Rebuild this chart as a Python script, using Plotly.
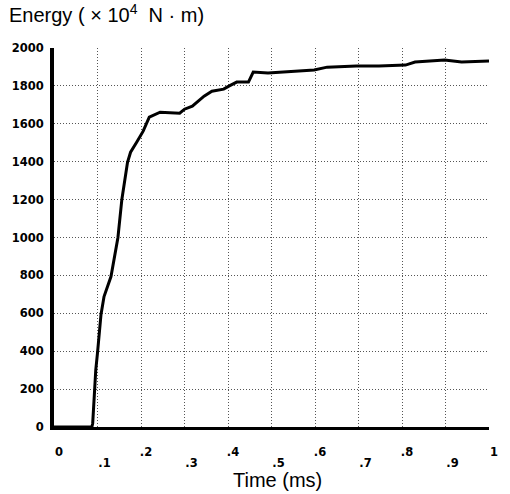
import plotly.graph_objects as go

# Data
time_ms = [0.0, 0.087, 0.089, 0.093, 0.096, 0.100, 0.108, 0.115, 0.131, 0.147, 0.156,
           0.169, 0.176, 0.190, 0.205, 0.219, 0.233, 0.244, 0.289, 0.300, 0.318,
           0.345, 0.363, 0.390, 0.402, 0.420, 0.447, 0.458, 0.492, 0.598, 0.628,
           0.695, 0.747, 0.808, 0.830, 0.898, 0.937, 1.000]
energy = [0, 0, 20, 185, 300, 391, 593, 688, 794, 1000, 1201,
          1397, 1450, 1503, 1561, 1635, 1651, 1661, 1656, 1677, 1693,
          1746, 1772, 1783, 1799, 1820, 1820, 1873, 1868, 1884, 1899,
          1905, 1905, 1910, 1926, 1937, 1926, 1931]

even_ticks = [0, 0.1, 0.2, 0.3, 0.4, 0.5, 0.6, 0.7, 0.8, 0.9, 1.0]
even_text = ["0", "", ".2", "", ".4", "", ".6", "", ".8", "", "1"]
odd_ticks = [0.1, 0.3, 0.5, 0.7, 0.9]
odd_text = [".1", ".3", ".5", ".7", ".9"]
y_ticks = [0, 200, 400, 600, 800, 1000, 1200, 1400, 1600, 1800, 2000]

tickfont = dict(family="DejaVu Sans", size=11.5, color="black", weight="bold")

fig = go.Figure()
fig.add_trace(go.Scatter(x=time_ms, y=energy, mode="lines",
                         line=dict(color="black", width=3), hoverinfo="skip",
                         showlegend=False))
fig.add_trace(go.Scatter(x=time_ms, y=energy, mode="lines", xaxis="x2",
                         line=dict(color="rgba(0,0,0,0)", width=0), hoverinfo="skip",
                         showlegend=False))

grid = dict(showgrid=True, gridcolor="#555555", griddash="1px,2px", gridwidth=1)

fig.update_layout(
    width=510, height=494,
    margin=dict(l=52, r=15, t=48, b=67),
    paper_bgcolor="white", plot_bgcolor="white",
    font=dict(family="Liberation Sans, Arial", color="black"),
    title=dict(text="Energy ( × 10<sup>4</sup>  N · m)", xref="container", yref="container",
               x=9 / 510, xanchor="left", y=1 - 15 / 494, yanchor="middle",
               font=dict(family="Liberation Sans, Arial", size=20, color="black")),
    xaxis=dict(range=[0, 1], tickvals=even_ticks, ticktext=even_text,
               tickfont=tickfont, ticks="", showline=True, linecolor="black",
               linewidth=3, zeroline=False, ticklabelstandoff=12,
               ticklabelshift=5, **grid),
    xaxis2=dict(range=[0, 1], overlaying="x", side="bottom", anchor="y",
                matches="x", tickvals=odd_ticks, ticktext=odd_text,
                tickfont=tickfont, ticks="", showgrid=False, showline=False,
                zeroline=False, ticklabelstandoff=27, ticklabelshift=7),
    yaxis=dict(range=[0, 2000], tickvals=y_ticks, tickfont=tickfont, ticks="",
               showline=True, linecolor="black", linewidth=4, zeroline=False,
               ticklabelstandoff=4, **grid),
    annotations=[dict(text="Time (ms)", xref="paper", yref="paper",
                      x=(280 - 52) / 443, y=-(480 - 427) / 379,
                      xanchor="center", yanchor="middle", showarrow=False,
                      font=dict(family="Liberation Sans, Arial", size=20, color="black"))],
)

fig.write_html("out.html")
